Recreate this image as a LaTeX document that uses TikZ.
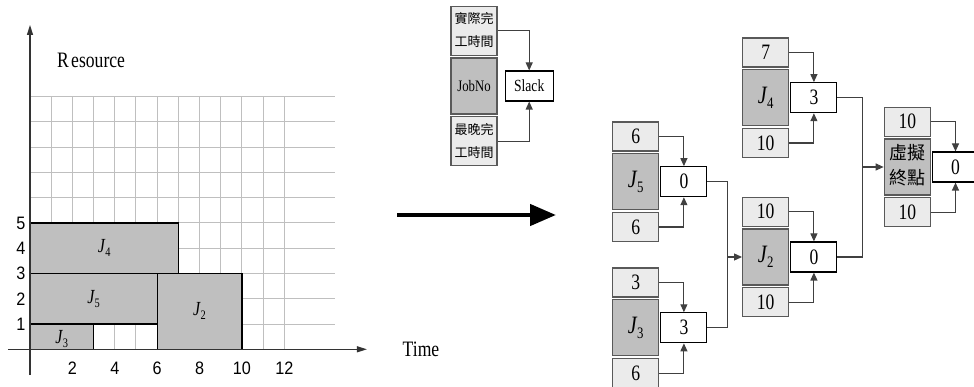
\documentclass[tikz,border=0pt]{standalone}
\usepackage{fontspec}
\setmainfont{Liberation Serif}
\newfontfamily\cjk{Noto Sans CJK TC}
\newfontfamily\condf[FakeStretch=0.8]{Liberation Serif}
\newfontfamily\arialc[FakeStretch=0.9]{Liberation Sans}
\usetikzlibrary{arrows.meta}
\newcommand{\numf}{\condf\fontsize{22}{24}\selectfont}
\newcommand{\JJ}[1]{{\condf\fontsize{25}{26}\selectfont\itshape J}\kern0.5pt\raisebox{-5pt}{\condf\fontsize{16}{17}\selectfont #1}}
\newcommand{\Jsm}[1]{{\condf\fontsize{20}{21}\selectfont\itshape J}\kern0.3pt\raisebox{-4pt}{\condf\fontsize{13}{14}\selectfont #1}}
\newcommand{\grp}[8]{%
  \node[darkbox] (#1) at (#2,#3) {#5};
  \node[lightbox, anchor=south] (#1t) at ([yshift=1.5pt]#1.north) {#4};
  \node[lightbox, anchor=north] (#1b) at ([yshift=-1.5pt]#1.south) {#6};
  \node[slackbox, anchor=west, #8] (#1s) at ([xshift=1pt]#1.east) {#7};
  \draw[conn] (#1t.east) -| (#1s.north);
  \draw[conn] (#1b.east) -| (#1s.south);
}
\begin{document}
\begin{tikzpicture}[x=1pt,y=-1pt,
  gridline/.style={draw=black!25, line width=1pt},
  axisline/.style={draw=black!80, line width=1.3pt},
  jobrect/.style={fill=black!25, draw=black, line width=1.2pt},
  tick/.style={inner sep=0pt, font=\arialc\fontsize{18}{20}\selectfont},
  lightbox/.style={draw=black!65, fill=black!8, line width=1.3pt, minimum width=46pt, minimum height=29pt, inner sep=0pt, font=\numf},
  darkbox/.style={draw=black!65, fill=black!25, line width=1.3pt, minimum width=46pt, minimum height=56pt, inner sep=0pt, align=center},
  slackbox/.style={draw=black, fill=white, line width=1.1pt, minimum width=46pt, minimum height=30pt, inner sep=0pt, font=\numf},
  link/.style={draw=black!75, line width=1.1pt},
  conn/.style={link, -{Triangle[length=8pt,width=7pt]}}
]
\useasboundingbox (0,0) rectangle (974,387);
% ---------------- left chart ----------------
\begin{scope}[shift={(30pt,-349.3pt)}, x=21.19pt, y=25.26pt]
  \foreach \i in {1,...,10} \draw[gridline] (0,\i) -- (14.4,\i);
  \foreach \i in {1,...,12} \draw[gridline] (\i,0) -- (\i,10);
  \draw[jobrect] (0,3) rectangle (7,5);
  \draw[jobrect] (0,1) rectangle (6,3);
  \draw[jobrect] (6,0) rectangle (10,3);
  \draw[jobrect] (0,0) rectangle (3,1);
  \node (lj4) at (3.5,4) {\Jsm{4}};
  \node (lj5) at (3,2) {\Jsm{5}};
  \node (lj2) at (8,1.5) {\Jsm{2}};
  \node (lj3) at (1.5,0.4) {\Jsm{3}};
  \draw[axisline, -{Triangle[length=10pt,width=6pt]}] (-1.04,0) -- (15.9,0);
  \draw[axisline, -{Triangle[length=10pt,width=6pt]}] (0,-1.02) -- (0,12.84);
  \foreach \t in {2,4,...,12} \node[tick] (tx\t) at (\t,-0.75) {\t};
  \foreach \t in {1,...,5} \node[tick] (ty\t) at (-0.43,\t) {\t};
\end{scope}
\node[inner sep=0pt, font=\condf\fontsize{22}{24}\selectfont] (res) at (91,60) {R\kern2.5pt esource};
\node[inner sep=0pt, font=\condf\fontsize{22}{24}\selectfont] (time) at (421,349) {Time};
% ---------------- big arrow ----------------
\coordinate (ba1) at (397,215);
\coordinate (ba2) at (556,215);
\draw[line width=4.5pt, -{Triangle[length=26pt,width=21pt]}] (ba1) -- (ba2);
% ---------------- legend ----------------
\node[darkbox] (lj) at (474,86) {\condf\fontsize{16}{18}\selectfont JobNo};
\node[lightbox, minimum height=49pt, anchor=south] (lt) at ([yshift=1.5pt]lj.north)
  {\cjk\fontsize{13}{23}\selectfont\begin{tabular}{@{}c@{}}實際完\\工時間\end{tabular}};
\node[lightbox, minimum height=49pt, anchor=north] (lb) at ([yshift=-1.5pt]lj.south)
  {\cjk\fontsize{13}{23}\selectfont\begin{tabular}{@{}c@{}}最晚完\\工時間\end{tabular}};
\node[slackbox, minimum width=48pt, anchor=west, font=\condf\fontsize{17}{19}\selectfont] (ls) at ([xshift=7pt]lj.east) {Slack};
\draw[conn] (lt.east) -| (ls.north);
\draw[conn] (lb.east) -| (ls.south);
% ---------------- network ----------------
\grp{j4}{765.7}{97.7}{7}{\JJ{4}}{10}{3}{}
\grp{j5}{635.7}{181.7}{6}{\JJ{5}}{6}{0}{}
\grp{j3}{635.7}{327.8}{3}{\JJ{3}}{6}{3}{}
\grp{j2}{765.7}{257}{10}{\JJ{2}}{10}{0}{}
\grp{ve}{907.3}{167}{10}{\cjk\fontsize{18}{25}\selectfont\begin{tabular}{@{}c@{}}虛擬\\終點\end{tabular}}{10}{0}{draw=none}
\draw[black, line width=1.1pt] ([xshift=40pt,yshift=-0.55pt]ves.north east) -- ([yshift=-0.55pt,xshift=0.55pt]ves.north west)
  -- ([yshift=0.55pt,xshift=0.55pt]ves.south west) -- ([xshift=40pt,yshift=0.55pt]ves.south east);
\coordinate (m1) at (727.3,257);
\coordinate (m2) at (862.7,167);
\draw[link] (j5s.east) -| (m1);
\draw[link] (j3s.east) -| (m1);
\draw[conn] (m1) -- (j2.west);
\draw[link] (j4s.east) -| (m2);
\draw[link] (j2s.east) -| (m2);
\draw[conn] (m2) -- (ve.west);
\end{tikzpicture}
\end{document}
